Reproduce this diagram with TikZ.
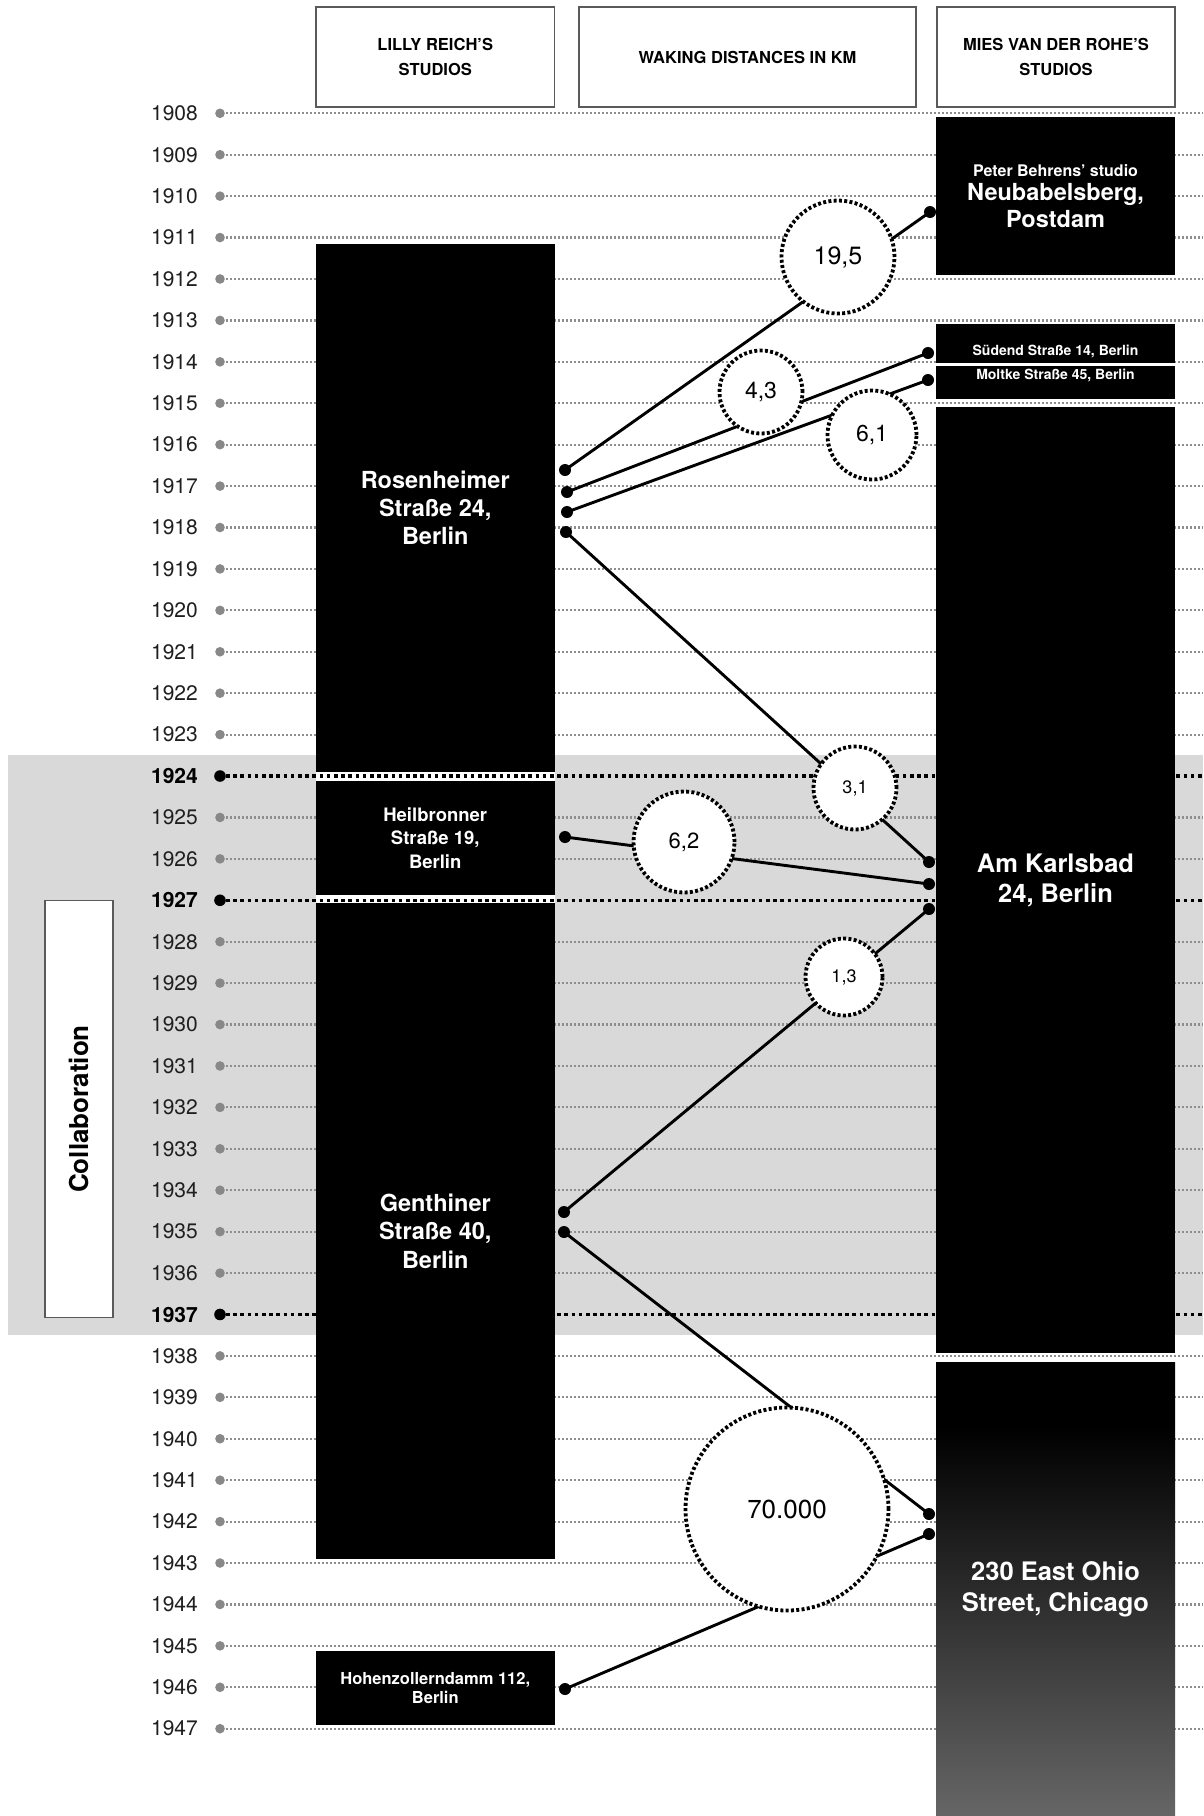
\documentclass[tikz,border=0pt]{standalone}
\usepackage{fontspec}
\setmainfont{TeX Gyre Heros}
\definecolor{bggray}{HTML}{D9D9D9}
\definecolor{dotgray}{HTML}{888888}
\definecolor{linegray}{HTML}{8E8E8E}
\definecolor{edgegray}{HTML}{5A5A5A}
\definecolor{chibot}{gray}{0.40}
\pgfdeclareverticalshading{chicshade}{100bp}{color(0bp)=(chibot); color(25bp)=(chibot); color(68bp)=(black); color(100bp)=(black)}
\newcommand{\fsz}[2]{\fontsize{#1}{#2}\selectfont}
\begin{document}
\begin{tikzpicture}[x=1pt,y=-1pt,
  yearlab/.style={anchor=east, inner sep=0pt, text=black!88, font=\fsz{21}{24}},
  boldlab/.style={anchor=east, inner sep=0pt, text=black, font=\fsz{21}{24}\bfseries},
  yline/.style={draw=linegray, line width=2.2pt, dash pattern=on 2pt off 2pt},
  byline/.style={draw=black, line width=3.2pt, dash pattern=on 3.6pt off 3.6pt},
  hdr/.style={draw=edgegray, line width=1.5pt, fill=white, minimum height=100pt, align=center, inner sep=0pt, font=\fsz{16.5}{25}\bfseries},
  blk/.style={fill=black, draw=none, inner sep=0pt, text=white, align=center},
  lcol/.style={blk, minimum width=238.5pt},
  rcol/.style={blk, minimum width=239pt},
  dist/.style={circle, fill=white, draw=black, line width=3.8pt, dash pattern=on 3pt off 2.3pt, inner sep=0pt},
  conn/.style={line width=2.9pt, draw=black},
  enddot/.style={fill=black}
  ]
\useasboundingbox (0,0) rectangle (1203,1816);
\fill[white] (0,0) rectangle (1203,1816);
% collaboration band
\fill[bggray] (8,755) rectangle (1203,1335);
\fill[white] (316,772.3) rectangle (554.5,780.7);
\fill[white] (316,895.3) rectangle (554.5,902.7);

% headers
\node[hdr, minimum width=238.5pt] (hleft) at (435.25,57) {LILLY REICH’S\\STUDIOS};
\node[hdr, minimum width=337pt] (hmid) at (747.5,57) {WAKING DISTANCES IN KM};
\node[hdr, minimum width=238pt] (hright) at (1056,57) {MIES VAN DER ROHE’S\\STUDIOS};

% years
\foreach \yr in {1908,...,1947}{
  \pgfmathsetmacro\yy{113.3+(\yr-1908)*41.42}
  \pgfmathtruncatemacro\isb{((\yr==1924)||(\yr==1927)||(\yr==1937))}
  \coordinate (d\yr) at (220,\yy);
  \coordinate (e\yr) at (1203,\yy);
  \ifnum\isb=1
    \node[boldlab] (y\yr) at (198,\yy) {\yr};
    \draw[byline] (d\yr) ++(6,0) -- (e\yr);
    \fill[black] (d\yr) circle (5.8pt);
  \else
    \node[yearlab] (y\yr) at (198,\yy) {\yr};
    \draw[yline] (d\yr) ++(6,0) -- (e\yr);
    \fill[dotgray] (d\yr) circle (4.8pt);
  \fi
}

% collaboration label
\node[draw=edgegray, line width=1.5pt, fill=white, rotate=90, minimum width=417pt, minimum height=68pt, inner sep=0pt, font=\fsz{26}{30}\bfseries] (collab) at (79,1109) {Collaboration};

% Lilly Reich's studios
\node[lcol, minimum height=528.6pt, font=\fsz{23.5}{27.8}\bfseries] (rosen) at (435.25,508) {Rosenheimer\\Straße 24,\\Berlin};
\node[lcol, minimum height=114.6pt, font=\fsz{18.5}{23.3}\bfseries] (heil) at (435.25,838) {Heilbronner\\Straße 19,\\Berlin};
\node[lcol, minimum height=656.3pt, font=\fsz{23.5}{28.5}\bfseries] (genth) at (435.25,1230.9) {Genthiner\\Straße 40,\\Berlin};
\node[lcol, minimum height=74pt, font=\fsz{16.5}{18.5}\bfseries] (hohen) at (435.25,1688) {Hohenzollerndamm 112,\\Berlin};

% Mies van der Rohe's studios
\node[rcol, minimum height=158pt, font=\fsz{23.5}{27.3}\bfseries] (neu) at (1055.5,196) {{\fsz{16}{19}Peter Behrens’ studio}\\[-3pt]Neubabelsberg,\\Postdam};
\node[rcol, minimum height=38.7pt] (sued) at (1055.5,343.3) {};
\node[rcol, minimum height=33.6pt] (molt) at (1055.5,382.5) {};
\node[text=white, inner sep=0pt, font=\fsz{14}{16}\bfseries] (suedt) at (1055.5,351.5) {Südend Straße 14, Berlin};
\node[text=white, inner sep=0pt, font=\fsz{14}{16}\bfseries] (moltt) at (1055.5,375) {Moltke Straße 45, Berlin};
\node[rcol, minimum height=946pt, font=\fsz{25.5}{30.5}\bfseries] (karls) at (1055.5,880.3) {Am Karlsbad\\24, Berlin};
\node[rcol, shade, shading=chicshade, minimum height=454pt, font=\fsz{25.5}{31}\bfseries] (chic) at (1055.5,1589) {230 East Ohio\\Street, Chicago};

% connector end points
\coordinate (r1) at (565,470);
\coordinate (r2) at (567,492);
\coordinate (r3) at (567,512);
\coordinate (r4) at (566,532);
\coordinate (hb) at (565,837);
\coordinate (g1) at (564,1212);
\coordinate (g2) at (564,1232);
\coordinate (hz) at (565,1689);
\coordinate (n1) at (930,212);
\coordinate (s1) at (928,353);
\coordinate (m1) at (928,380);
\coordinate (k1) at (929,862);
\coordinate (k2) at (929,884);
\coordinate (k3) at (929,909);
\coordinate (c1) at (929,1514);
\coordinate (c2) at (929,1534);

\draw[conn] (r1) -- (n1);
\draw[conn] (r2) -- (s1);
\draw[conn] (r3) -- (m1);
\draw[conn] (r4) -- (k1);
\draw[conn] (hb) -- (k2);
\draw[conn] (g1) -- (k3);
\draw[conn] (g2) -- (c1);
\draw[conn] (hz) -- (c2);
\foreach \p in {r1,r2,r3,r4,hb,g1,g2,hz,n1,s1,m1,k1,k2,k3,c1,c2}
  \fill[enddot] (\p) circle (6pt);

% distance circles
\node[dist, minimum size=113pt, font=\fsz{25}{28}] (d195) at (838,257) {19,5};
\node[dist, minimum size=83pt, font=\fsz{23}{26}] (d43) at (761,392) {4,3};
\node[dist, minimum size=89pt, font=\fsz{23}{26}] (d61) at (872,435) {6,1};
\node[dist, minimum size=83pt, font=\fsz{18}{21}] (d31) at (855,788) {3,1};
\node[dist, minimum size=101pt, font=\fsz{22}{25}] (d62) at (684,842) {6,2};
\node[dist, minimum size=77pt, font=\fsz{18}{21}] (d13) at (844,977) {1,3};
\node[dist, minimum size=203pt, font=\fsz{26}{29}] (d70) at (787,1509) {70.000};
\end{tikzpicture}
\end{document}
